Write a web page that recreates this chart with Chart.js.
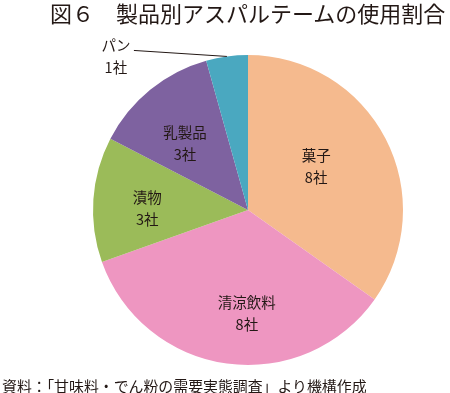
<!DOCTYPE html>
<html><head><meta charset="utf-8">
<script src="https://cdn.jsdelivr.net/npm/chart.js@4/dist/chart.umd.min.js"></script>
<style>
html,body{margin:0;padding:0;background:#fff;width:450px;height:393px;overflow:hidden;}
#wrap{position:relative;width:450px;height:393px;}
canvas{position:absolute;left:0;top:0;}
.t{position:absolute;white-space:nowrap;font-family:"Noto Sans CJK JP","Noto Sans",sans-serif;color:#231815;}
#title{left:50px;top:0px;font-size:22px;line-height:24px;}
#src{left:2px;top:376px;font-size:14.9px;line-height:20px;}
</style></head>
<body><div id="wrap">
<canvas id="c" width="450" height="393"></canvas>
<div class="t" id="title">図６　製品別アスパルテームの使用割合</div>
<div class="t" id="src">資料：「甘味料・でん粉の需要実態調査」より機構作成</div>
</div>
<script>
const categories = ["菓子", "清涼飲料", "漬物", "乳製品", "パン"];
const companies = [8, 8, 3, 3, 1];
const countLabels = ["8社", "8社", "3社", "3社", "1社"];
const colors = ["#F5BA8E", "#EE96C1", "#9BBB59", "#7E62A0", "#4AA8C0"];

const labelPlugin = {
  id: 'sliceLabels',
  afterDatasetsDraw(chart, args, opts) {
    const ctx = chart.ctx;
    const meta = chart.getDatasetMeta(0);
    ctx.save();
    ctx.font = '14.5px "Noto Sans CJK JP", sans-serif';
    ctx.fillStyle = '#231815';
    ctx.textAlign = 'center';
    ctx.textBaseline = 'middle';
    meta.data.forEach((arc, i) => {
      const p = arc.getProps(['x','y','startAngle','endAngle','outerRadius'], true);
      const mid = (p.startAngle + p.endAngle) / 2;
      const place = opts.place[i];
      if (place.outside) {
        const ex = p.x + Math.cos(mid) * p.outerRadius;
        const ey = p.y + Math.sin(mid) * p.outerRadius;
        const lx = ex + place.lineDx, ly = ey + place.lineDy;
        ctx.strokeStyle = '#231815';
        ctx.lineWidth = 1;
        ctx.beginPath(); ctx.moveTo(lx, ly); ctx.lineTo(ex, ey); ctx.stroke();
        ctx.fillText(categories[i], lx + place.textDx, ly + place.textDy);
        ctx.fillText(countLabels[i], lx + place.textDx, ly + place.textDy + opts.lineGap);
      } else {
        const a = mid + place.nudge * Math.PI / 180;
        const r = p.outerRadius * place.frac;
        const cx = p.x + Math.cos(a) * r;
        const cy = p.y + Math.sin(a) * r;
        ctx.fillText(categories[i], cx, cy - opts.lineGap / 2);
        ctx.fillText(countLabels[i], cx, cy + opts.lineGap / 2);
      }
    });
    ctx.restore();
  }
};

new Chart(document.getElementById('c'), {
  type: 'pie',
  data: {
    labels: categories,
    datasets: [{ data: companies, backgroundColor: colors, borderWidth: 0 }]
  },
  options: {
    responsive: false,
    animation: false,
    devicePixelRatio: 1,
    layout: { padding: { left: 93, right: 47, top: 55, bottom: 28 } },
    plugins: {
      legend: { display: false },
      tooltip: { enabled: false },
      title: { display: false },
      sliceLabels: {
        lineGap: 22,
        place: [
          { frac: 0.52, nudge: -4.9 },
          { frac: 0.665, nudge: -7.2 },
          { frac: 0.65, nudge: -3.3 },
          { frac: 0.59, nudge: -4.4 },
          { outside: true, lineDx: -93, lineDy: -6, textDx: -18, textDy: -5 }
        ]
      }
    }
  },
  plugins: [labelPlugin]
});
</script>
</body></html>
